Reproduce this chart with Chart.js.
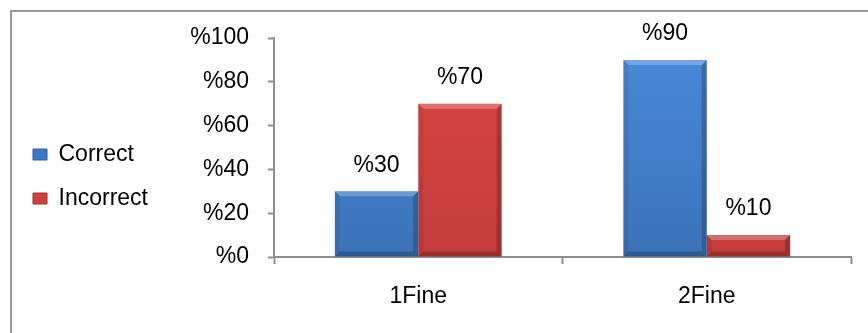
<!DOCTYPE html>
<html>
<head>
<meta charset="utf-8">
<script src="https://cdn.jsdelivr.net/npm/chart.js@4/dist/chart.umd.min.js"></script>
<style>
  body { margin: 0; background: #fff; }
  #frame {
    position: absolute;
    left: 10px;
    top: 10px;
    border-left: 2px solid #9a9a9a;
    border-top: 2px solid #9a9a9a;
  }
  canvas { display: block; }
</style>
</head>
<body>
<div id="frame">
  <canvas id="results" width="856" height="321"></canvas>
</div>
<script>
// Answers per fine, as percentages
const categories = ["1Fine", "2Fine"];
const correctValues = [30, 90];
const incorrectValues = [70, 10];
const yTicks = [0, 20, 40, 60, 80, 100];

const FONT = "'Liberation Sans', Arial, sans-serif";
const FONT_SIZE = 23;
const AXIS_GRAY = "#8e8e8e";

// Percent label above each bar
const valueLabels = {
  id: "valueLabels",
  afterDatasetsDraw(chart) {
    const ctx = chart.ctx;
    ctx.save();
    ctx.font = FONT_SIZE + "px " + FONT;
    ctx.fillStyle = "#000";
    ctx.textAlign = "center";
    ctx.textBaseline = "middle";
    chart.data.datasets.forEach((ds, i) => {
      chart.getDatasetMeta(i).data.forEach((bar, j) => {
        ctx.fillText("%" + ds.data[j], bar.x, bar.y - 26);
      });
    });
    ctx.restore();
  }
};

// Bevelled edges on the bars
const bevel = {
  id: "bevel",
  afterDatasetsDraw(chart) {
    const ctx = chart.ctx;
    ctx.save();
    chart.data.datasets.forEach((ds, i) => {
      chart.getDatasetMeta(i).data.forEach((bar) => {
        const p = bar.getProps(["x", "y", "base", "width"], true);
        const l = p.x - p.width / 2, r = p.x + p.width / 2;
        const t = p.y, b = p.base;
        const d = Math.min(5, (b - t) / 2);
        const quad = (pts, color) => {
          ctx.beginPath();
          ctx.moveTo(pts[0], pts[1]);
          for (let k = 2; k < pts.length; k += 2) ctx.lineTo(pts[k], pts[k + 1]);
          ctx.closePath();
          ctx.fillStyle = color;
          ctx.fill();
        };
        quad([l, t, r, t, r - d, t + d, l + d, t + d], "rgba(255,255,255,0.25)");
        quad([l, t, l + d, t + d, l + d, b - d, l, b], "rgba(0,0,0,0.07)");
        quad([r, t, r - d, t + d, r - d, b - d, r, b], "rgba(0,0,0,0.2)");
        quad([l, b, l + d, b - d, r - d, b - d, r, b], "rgba(0,0,0,0.22)");
      });
    });
    ctx.restore();
  }
};

// Soft top-to-bottom shading inside a bar
function barFill(top, bottom) {
  return (c) => {
    const chart = c.chart;
    const area = chart.chartArea;
    if (!area) return top;
    const g = chart.ctx.createLinearGradient(0, area.top, 0, area.bottom);
    g.addColorStop(0, top);
    g.addColorStop(1, bottom);
    return g;
  };
}

new Chart(document.getElementById("results"), {
  type: "bar",
  data: {
    labels: categories,
    datasets: [
      {
        label: "Correct",
        data: correctValues,
        backgroundColor: barFill("#4a8ad8", "#3b72b8"),
        borderWidth: 0
      },
      {
        label: "Incorrect",
        data: incorrectValues,
        backgroundColor: barFill("#dc4848", "#c23b3b"),
        borderWidth: 0
      }
    ]
  },
  options: {
    responsive: false,
    animation: false,
    layout: { padding: { left: 0, top: 26, right: 17, bottom: 18 } },
    datasets: {
      bar: { categoryPercentage: 0.578, barPercentage: 1.0 }
    },
    plugins: {
      tooltip: { enabled: false },
      legend: {
        position: "left",
        labels: {
          color: "#000",
          boxWidth: 14,
          boxHeight: 11,
          padding: 21,
          font: { family: FONT, size: FONT_SIZE },
          generateLabels: (chart) => chart.data.datasets.map((ds, i) => ({
            text: ds.label,
            fillStyle: i === 0 ? "#3d78c4" : "#cc4040",
            strokeStyle: i === 0 ? "#2e5f9e" : "#a03030",
            lineWidth: 1,
            datasetIndex: i
          }))
        }
      }
    },
    scales: {
      x: {
        offset: true,
        grid: {
          offset: true,
          drawOnChartArea: false,
          drawTicks: true,
          tickLength: 7,
          tickColor: AXIS_GRAY,
          tickWidth: 2
        },
        border: { color: AXIS_GRAY, width: 2 },
        ticks: {
          color: "#000",
          padding: 19,
          font: { family: FONT, size: FONT_SIZE }
        },
        afterFit: (s) => { s.height = 58; }
      },
      y: {
        min: 0,
        max: 100,
        afterBuildTicks: (s) => { s.ticks = yTicks.map((v) => ({ value: v })); },
        grid: {
          drawOnChartArea: false,
          drawTicks: true,
          tickLength: 6,
          tickColor: AXIS_GRAY,
          tickWidth: 2
        },
        border: { color: AXIS_GRAY, width: 2 },
        ticks: {
          color: "#000",
          padding: 19,
          font: { family: FONT, size: FONT_SIZE },
          callback: (v) => "%" + v
        },
        afterFit: (s) => {
          const legendW = s.chart.legend ? s.chart.legend.width : 0;
          s.width = 262 - legendW;
          // top label fits inside the layout padding already
          s.paddingTop = 0;
        }
      }
    }
  },
  plugins: [valueLabels, bevel]
});
</script>
</body>
</html>
